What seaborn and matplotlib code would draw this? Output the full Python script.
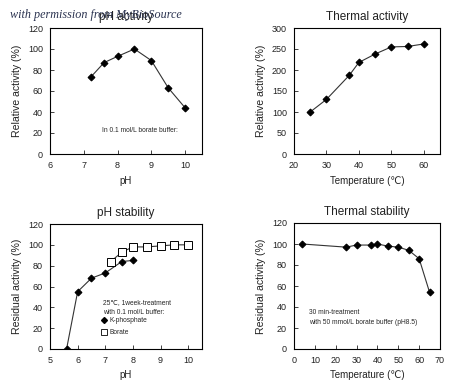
import matplotlib
matplotlib.use("Agg")
import matplotlib.pyplot as plt
import seaborn as sns
import pandas as pd
from matplotlib.lines import Line2D

sns.set_style("ticks")
plt.rcParams['font.family'] = ['Liberation Sans', 'DejaVu Sans']

# Data
ph_act_x = [7.2, 7.6, 8.0, 8.5, 9.0, 9.5, 10.0]
ph_act_y = [73, 87, 93, 100, 89, 63, 44]

therm_act_x = [25, 30, 37, 40, 45, 50, 55, 60]
therm_act_y = [100, 130, 187, 218, 238, 255, 256, 262]

kphos_x = [5.6, 6.0, 6.5, 7.0, 7.6, 8.0]
kphos_y = [0, 55, 68, 73, 84, 85]
borate_x = [7.2, 7.6, 8.0, 8.5, 9.0, 9.5, 10.0]
borate_y = [84, 93, 98, 98, 99, 100, 100]

therm_stab_x = [4, 25, 30, 37, 40, 45, 50, 55, 60, 65]
therm_stab_y = [100, 97, 99, 99, 100, 98, 97, 94, 86, 54]

W, H = 450, 387
fig = plt.figure(figsize=(W/100, H/100), dpi=100)

def box(l, r, t, b):
    return [l/W, (H-b)/H, (r-l)/W, (b-t)/H]

ax1 = fig.add_axes(box(50, 202, 28, 154))
ax2 = fig.add_axes(box(294, 440, 28, 154))
ax3 = fig.add_axes(box(50, 202, 224, 349))
ax4 = fig.add_axes(box(294, 440, 223, 349))

lc = '#333333'
kw = dict(color=lc, linewidth=0.8, marker='D', markersize=3.5,
          markerfacecolor='black', markeredgecolor='black')

sns.lineplot(x=ph_act_x, y=ph_act_y, ax=ax1, **kw)
sns.lineplot(x=therm_act_x, y=therm_act_y, ax=ax2, **kw)
sns.lineplot(x=kphos_x, y=kphos_y, ax=ax3, **kw)
sns.lineplot(x=borate_x, y=borate_y, ax=ax3, color=lc, linewidth=0.8,
             marker='s', markersize=5.5, markerfacecolor='white',
             markeredgecolor='black', markeredgewidth=0.7)
sns.lineplot(x=therm_stab_x, y=therm_stab_y, ax=ax4, **kw)

settings = [
    (ax1, (6, 10.5), range(6, 11), (0, 120), range(0, 121, 20), 'pH', 'Relative activity (%)', 'pH activity'),
    (ax2, (20, 65), range(20, 61, 10), (0, 300), range(0, 301, 50), 'Temperature (\u2103)', 'Relative activity (%)', 'Thermal activity'),
    (ax3, (5, 10.5), range(5, 11), (0, 120), range(0, 121, 20), 'pH', 'Residual activity (%)', 'pH stability'),
    (ax4, (0, 70), range(0, 71, 10), (0, 120), range(0, 121, 20), 'Temperature (\u2103)', 'Residual activity (%)', 'Thermal stability'),
]
for ax, xl, xt, yl, yt, xlab, ylab, title in settings:
    ax.set_xlim(*xl)
    ax.set_ylim(*yl)
    ax.set_xticks(list(xt))
    ax.set_yticks(list(yt))
    ax.set_xlabel(xlab, fontsize=7, color='#222222', labelpad=4)
    ax.set_ylabel(ylab, fontsize=7.6, color='#222222', labelpad=4)
    ax.set_title(title, fontsize=8.5, color='#222222', pad=6)
    ax.tick_params(direction='in', length=3, width=0.6, labelsize=6.5, colors='#222222', pad=5)
    for s in ax.spines.values():
        s.set_visible(True)
        s.set_linewidth(0.8)
        s.set_color('black')
    ax.set_facecolor('white')

fs = 4.8
ax1.text(0.34, 0.19, 'In 0.1 mol/L borate buffer:', transform=ax1.transAxes, fontsize=fs, va='center')

ax3.text(0.35, 0.37, '25\u2103, 1week-treatment', transform=ax3.transAxes, fontsize=fs, va='center')
ax3.text(0.35, 0.29, 'with 0.1 mol/L buffer:', transform=ax3.transAxes, fontsize=fs, va='center')
handles = [Line2D([], [], linestyle='none', marker='D', markersize=3, color='black'),
           Line2D([], [], linestyle='none', marker='s', markersize=4, markerfacecolor='white',
                  markeredgecolor='black', markeredgewidth=0.6)]
ax3.legend(handles, ['K-phosphate', 'Borate'], loc='upper left', bbox_to_anchor=(0.335, 0.255),
           frameon=False, fontsize=fs, handlelength=0.9, handletextpad=0.4,
           labelspacing=0.75, borderaxespad=0, borderpad=0)

ax4.text(0.1, 0.29, '30 min-treatment', transform=ax4.transAxes, fontsize=fs, va='center')
ax4.text(0.1, 0.21, 'with 50 mmol/L borate buffer (pH8.5)', transform=ax4.transAxes, fontsize=fs, va='center')

fig.text(10/W, 1 - 18/H, 'with permission from MyBioSource', fontsize=8.7,
         family=['Liberation Serif', 'DejaVu Serif'], style='italic', color='#2b3350', va='baseline')

fig.savefig('out.png', dpi=100, facecolor='white')
